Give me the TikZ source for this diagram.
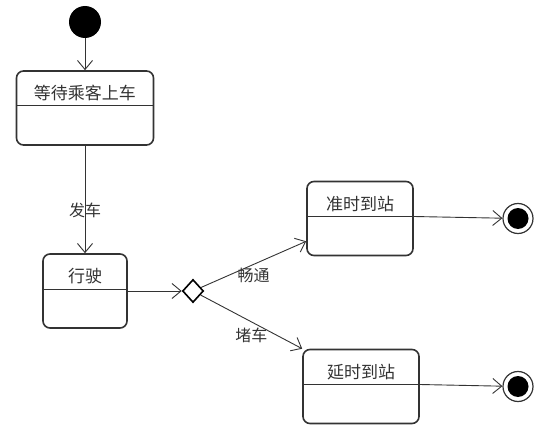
\documentclass[tikz,border=0pt]{standalone}
\usepackage{fontspec}
\newfontfamily\cjk{Noto Sans CJK SC}
\usetikzlibrary{shapes.geometric, arrows.meta, positioning}
\definecolor{ink}{HTML}{333333}
\tikzstyle{state} = [rectangle, rounded corners=7pt,
minimum height=74pt,
inner sep=0pt,
text height=28.5pt, text depth=45.5pt,
font=\cjk\fontsize{17}{19}\selectfont,
text=ink,
draw=ink, line width=1.6pt,
path picture={\draw[line width=1pt] ([yshift=2pt]path picture bounding box.west) -- ([yshift=2pt]path picture bounding box.east);}]
\tikzstyle{initial} = [circle, fill=black, minimum size=32pt, inner sep=0pt]
\tikzstyle{final} = [circle, draw=ink, line width=1.2pt, minimum size=30pt, inner sep=0pt,
path picture={\fill[black] (path picture bounding box.center) circle (10.5pt);}]
\tikzstyle{choice} = [diamond, draw=black, line width=1.6pt, minimum width=21pt, minimum height=23pt, inner sep=0pt]
\tikzstyle{arrow} = [ink, line width=0.9pt, -{Straight Barb[length=9pt,width=15pt]}]
\tikzstyle{guard} = [font=\cjk\fontsize{16}{18}\selectfont, text=ink, inner sep=0pt]

\begin{document}
\begin{tikzpicture}[node distance=86pt]
\useasboundingbox (0,0) rectangle (555pt,-436pt);
\node (init)[initial] at (85pt,-22pt) {};
\node (wait)[state, below of=init, minimum width=137pt] {等待乘客上车};
\node (drive)[state, below of=wait, yshift=-97pt, minimum width=84pt] {行驶};
\node (dec)[choice, right of=drive, xshift=22pt] {};
\node (ontime)[state, right of=dec, xshift=81pt, yshift=72.5pt, minimum width=106pt] {准时到站};
\node (delay)[state, right of=dec, xshift=82pt, yshift=-95.5pt, minimum width=116pt] {延时到站};
\node (end1)[final, right of=ontime, xshift=72pt] {};
\node (end2)[final, right of=delay, xshift=71pt] {};

\draw[arrow] (init) -- (wait);
\draw[arrow] (wait) -- node[guard, pos=0.6] {发车} (drive);
\draw[arrow] (drive.east |- dec) -- (dec);
\draw[arrow] (dec) -- node[guard, pos=0.5, yshift=-11pt] {畅通} ([yshift=15pt]ontime.south west);
\draw[arrow] (dec) -- node[guard, pos=0.5, yshift=-13.5pt] {堵车} (delay.north west);
\draw[arrow] ([yshift=2pt]ontime.east) -- (end1);
\draw[arrow] ([yshift=2pt]delay.east) -- (end2);
\end{tikzpicture}
\end{document}
